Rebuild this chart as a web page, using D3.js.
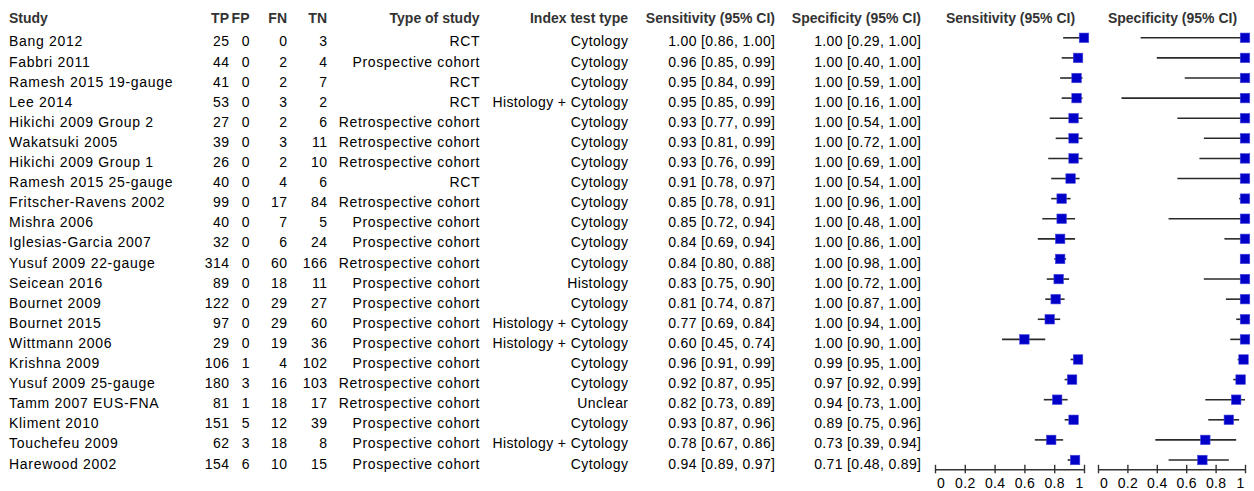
<!DOCTYPE html>
<html>
<head>
<meta charset="utf-8">
<script src="https://cdn.jsdelivr.net/npm/d3@7/dist/d3.min.js"></script>
<style>
  html, body { margin: 0; padding: 0; background: #fff; }
  svg { display: block; font-family: "Liberation Sans", Arial, sans-serif; }
</style>
</head>
<body>
<svg id="chart" width="1254" height="491"></svg>
<script>
// Study-level 2x2 counts and summary accuracy estimates
const studies = ["Bang 2012", "Fabbri 2011", "Ramesh 2015 19-gauge", "Lee 2014", "Hikichi 2009 Group 2",
  "Wakatsuki 2005", "Hikichi 2009 Group 1", "Ramesh 2015 25-gauge", "Fritscher-Ravens 2002", "Mishra 2006",
  "Iglesias-Garcia 2007", "Yusuf 2009 22-gauge", "Seicean 2016", "Bournet 2009", "Bournet 2015",
  "Wittmann 2006", "Krishna 2009", "Yusuf 2009 25-gauge", "Tamm 2007 EUS-FNA", "Kliment 2010",
  "Touchefeu 2009", "Harewood 2002"];
const tp = [25, 44, 41, 53, 27, 39, 26, 40, 99, 40, 32, 314, 89, 122, 97, 29, 106, 180, 81, 151, 62, 154];
const fp = [0, 0, 0, 0, 0, 0, 0, 0, 0, 0, 0, 0, 0, 0, 0, 0, 1, 3, 1, 5, 3, 6];
const fn = [0, 2, 2, 3, 2, 3, 2, 4, 17, 7, 6, 60, 18, 29, 29, 19, 4, 16, 18, 12, 18, 10];
const tn = [3, 4, 7, 2, 6, 11, 10, 6, 84, 5, 24, 166, 11, 27, 60, 36, 102, 103, 17, 39, 8, 15];
const studyType = ["RCT", "Prospective cohort", "RCT", "RCT", "Retrospective cohort", "Retrospective cohort",
  "Retrospective cohort", "RCT", "Retrospective cohort", "Prospective cohort", "Prospective cohort",
  "Retrospective cohort", "Prospective cohort", "Prospective cohort", "Prospective cohort", "Prospective cohort",
  "Prospective cohort", "Retrospective cohort", "Retrospective cohort", "Prospective cohort", "Prospective cohort",
  "Prospective cohort"];
const testType = ["Cytology", "Cytology", "Cytology", "Histology + Cytology", "Cytology", "Cytology", "Cytology",
  "Cytology", "Cytology", "Cytology", "Cytology", "Cytology", "Histology", "Cytology", "Histology + Cytology",
  "Histology + Cytology", "Cytology", "Cytology", "Unclear", "Cytology", "Histology + Cytology", "Cytology"];
const sens   = [1.00, 0.96, 0.95, 0.95, 0.93, 0.93, 0.93, 0.91, 0.85, 0.85, 0.84, 0.84, 0.83, 0.81, 0.77, 0.60, 0.96, 0.92, 0.82, 0.93, 0.78, 0.94];
const sensLo = [0.86, 0.85, 0.84, 0.85, 0.77, 0.81, 0.76, 0.78, 0.78, 0.72, 0.69, 0.80, 0.75, 0.74, 0.69, 0.45, 0.91, 0.87, 0.73, 0.87, 0.67, 0.89];
const sensHi = [1.00, 0.99, 0.99, 0.99, 0.99, 0.99, 0.99, 0.97, 0.91, 0.94, 0.94, 0.88, 0.90, 0.87, 0.84, 0.74, 0.99, 0.95, 0.89, 0.96, 0.86, 0.97];
const spec   = [1.00, 1.00, 1.00, 1.00, 1.00, 1.00, 1.00, 1.00, 1.00, 1.00, 1.00, 1.00, 1.00, 1.00, 1.00, 1.00, 0.99, 0.97, 0.94, 0.89, 0.73, 0.71];
const specLo = [0.29, 0.40, 0.59, 0.16, 0.54, 0.72, 0.69, 0.54, 0.96, 0.48, 0.86, 0.98, 0.72, 0.87, 0.94, 0.90, 0.95, 0.92, 0.73, 0.75, 0.39, 0.48];
const specHi = [1.00, 1.00, 1.00, 1.00, 1.00, 1.00, 1.00, 1.00, 1.00, 1.00, 1.00, 1.00, 1.00, 1.00, 1.00, 1.00, 1.00, 0.99, 1.00, 0.96, 0.94, 0.89];
const axisTicks = [0, 0.2, 0.4, 0.6, 0.8, 1];

const svg = d3.select("#chart");
const fmt = d3.format(".2f");
const rows = d3.range(studies.length);

// Row positions: marker centres and text baselines
const rowY = d3.scalePoint().domain(rows).range([37.8, 460]);
const baseline = i => rowY(i) + 8.6;
const headerBaseline = 23.2;
const bodySize = 14, headSize = 14;

// Table columns: header, accessor, x, anchor, letter spacing of the body text
const columns = [
  { head: "Study", get: i => studies[i], x: 9, anchor: "start", ls: 0.7 },
  { head: "TP", get: i => tp[i], x: 229, anchor: "end", ls: 0.4 },
  { head: "FP", get: i => fp[i], x: 249.5, anchor: "end", ls: 0.4 },
  { head: "FN", get: i => fn[i], x: 287, anchor: "end", ls: 0.4 },
  { head: "TN", get: i => tn[i], x: 327, anchor: "end", ls: 0.4 },
  { head: "Type of study", get: i => studyType[i], x: 479.5, anchor: "end", ls: 0.65 },
  { head: "Index test type", get: i => testType[i], x: 628, anchor: "end", ls: 0.4 },
  { head: "Sensitivity (95% CI)", get: i => `${fmt(sens[i])} [${fmt(sensLo[i])}, ${fmt(sensHi[i])}]`, x: 775, anchor: "end", ls: 0.35 },
  { head: "Specificity (95% CI)", get: i => `${fmt(spec[i])} [${fmt(specLo[i])}, ${fmt(specHi[i])}]`, x: 921, anchor: "end", ls: 0.35 }
];

const headColor = "#333";
columns.forEach(c => {
  svg.append("text")
    .attr("x", c.x).attr("y", headerBaseline)
    .attr("text-anchor", c.anchor)
    .attr("font-size", headSize).attr("font-weight", "bold").attr("fill", headColor)
    .text(c.head);
  // trailing letter spacing is added after the last glyph, so shift end-anchored text by it
  svg.append("g").selectAll("text").data(rows).join("text")
    .attr("x", c.anchor === "end" ? c.x + c.ls : c.x).attr("y", baseline)
    .attr("text-anchor", c.anchor)
    .attr("font-size", bodySize).attr("letter-spacing", c.ls).attr("fill", "#000")
    .text(c.get);
});

// Forest panels
const panels = [
  { title: "Sensitivity (95% CI)", est: sens, lo: sensLo, hi: sensHi, range: [935, 1084] },
  { title: "Specificity (95% CI)", est: spec, lo: specLo, hi: specHi, range: [1098, 1245] }
];
const axisY = 469.3;
const box = 9.5;

panels.forEach(p => {
  const x = d3.scaleLinear().domain([0, 1]).range(p.range);
  const g = svg.append("g");

  g.append("text")
    .attr("x", (p.range[0] + p.range[1]) / 2 + 1).attr("y", headerBaseline)
    .attr("text-anchor", "middle")
    .attr("font-size", headSize).attr("font-weight", "bold").attr("fill", headColor)
    .text(p.title);

  // Confidence intervals
  g.append("g").selectAll("line").data(rows).join("line")
    .attr("x1", i => x(p.lo[i])).attr("x2", i => x(p.hi[i]))
    .attr("y1", i => rowY(i)).attr("y2", i => rowY(i))
    .attr("stroke", "#2a2a2a").attr("stroke-width", 1.6);

  // Point estimates
  g.append("g").selectAll("rect").data(rows).join("rect")
    .attr("x", i => x(p.est[i]) - box / 2).attr("y", i => rowY(i) - box / 2)
    .attr("width", box).attr("height", box)
    .attr("fill", "#0000c8").attr("stroke", "#4a4ae0").attr("stroke-width", 0.6);

  // Axis
  const axis = d3.axisBottom(x).tickValues(axisTicks).tickFormat(d3.format("")).tickSize(0);
  const ag = g.append("g").attr("transform", `translate(0,${axisY})`).call(axis);
  ag.select(".domain").attr("stroke", "#333").attr("stroke-width", 1.4);
  ag.selectAll(".tick").append("line")
    .attr("y1", -4.5).attr("y2", 4).attr("stroke", "#333").attr("stroke-width", 1.4);
  ag.selectAll(".tick text")
    .attr("y", 18.5).attr("dy", 0)
    .attr("font-size", 14).attr("font-family", "'Liberation Sans', Arial, sans-serif").attr("fill", "#000")
    .attr("letter-spacing", 0.3)
    .attr("text-anchor", (d, i, n) => i === 0 ? "start" : (i === n.length - 1 ? "end" : "middle"))
    .attr("dx", (d, i, n) => i === 0 ? 1.5 : (i === n.length - 1 ? -1 : 0));
});
</script>
</body>
</html>
